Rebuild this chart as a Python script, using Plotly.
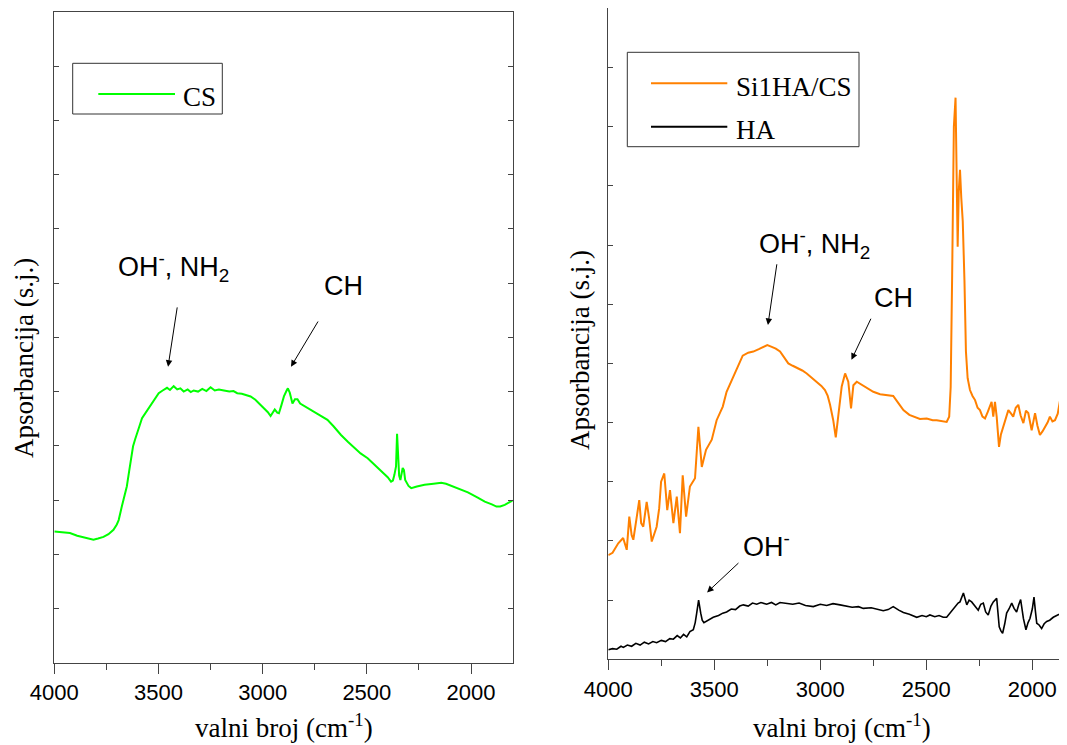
import plotly.graph_objects as go

# ---------------- data ----------------
cs_wn = [4000, 3960, 3925, 3890, 3850, 3812, 3790, 3764, 3740, 3716, 3700, 3691, 3676, 3665, 3652,
         3640, 3635, 3628, 3622, 3612, 3603, 3590, 3579, 3560, 3539, 3520, 3499, 3480, 3459, 3445,
         3427, 3410, 3395, 3379, 3360, 3345, 3331, 3310, 3290, 3270, 3250, 3230, 3210, 3186, 3160,
         3140, 3122, 3100, 3080, 3058, 3035, 3010, 2990, 2975, 2962, 2950, 2942, 2930, 2922, 2910,
         2898, 2885, 2879, 2870, 2862, 2857, 2845, 2833, 2820, 2802, 2770, 2737, 2710, 2689, 2660,
         2624, 2590, 2560, 2530, 2496, 2460, 2430, 2400, 2384, 2375, 2368, 2360, 2355, 2350, 2345,
         2339, 2333, 2328, 2322, 2316, 2300, 2287, 2260, 2223, 2180, 2143, 2120, 2095, 2060, 2015,
         1970, 1934, 1900, 1878, 1860, 1838, 1815, 1800]
cs_abs = [2.42, 2.41, 2.39, 2.34, 2.31, 2.27, 2.29, 2.32, 2.37, 2.45, 2.55, 2.63, 2.88, 3.05, 3.25,
          3.55, 3.68, 3.90, 3.99, 4.12, 4.24, 4.38, 4.51, 4.62, 4.75, 4.86, 4.97, 5.02, 5.07, 5.03,
          5.10, 5.04, 5.06, 5.00, 5.04, 4.99, 5.02, 5.00, 5.05, 5.01, 5.08, 5.02, 5.04, 5.02, 5.00,
          5.01, 4.97, 4.96, 4.94, 4.91, 4.85, 4.76, 4.68, 4.62, 4.55, 4.64, 4.67, 4.61, 4.60, 4.75,
          4.91, 5.02, 5.06, 4.98, 4.82, 4.78, 4.86, 4.86, 4.78, 4.74, 4.67, 4.60, 4.53, 4.48, 4.36,
          4.20, 4.07, 3.96, 3.86, 3.77, 3.64, 3.54, 3.42, 3.34, 3.36, 3.46, 3.62, 4.22, 3.70, 3.45,
          3.37, 3.50, 3.59, 3.55, 3.37, 3.26, 3.22, 3.25, 3.28, 3.30, 3.32, 3.30, 3.26, 3.21, 3.14,
          3.05, 2.97, 2.92, 2.88, 2.88, 2.91, 2.96, 2.99]

si_wn = [4000, 3980, 3953, 3930, 3913, 3901, 3890, 3882, 3868, 3854, 3845, 3835, 3819, 3808, 3795,
         3772, 3760, 3751, 3736, 3722, 3709, 3693, 3677, 3662, 3649, 3633, 3615, 3591, 3575, 3559,
         3539, 3512, 3489, 3460, 3442, 3410, 3385, 3366, 3340, 3316, 3290, 3269, 3250, 3229, 3210,
         3190, 3170, 3151, 3130, 3111, 3085, 3064, 3040, 3017, 2995, 2978, 2965, 2954, 2939, 2927,
         2915, 2899, 2883, 2868, 2855, 2844, 2828, 2800, 2781, 2750, 2718, 2685, 2656, 2630, 2608,
         2580, 2561, 2530, 2498, 2470, 2451, 2425, 2404, 2392, 2385, 2378, 2370, 2362, 2357, 2352,
         2347, 2341, 2335, 2328, 2320, 2313, 2305, 2294, 2282, 2270, 2258, 2247, 2235, 2223, 2210,
         2192, 2184, 2176, 2168, 2157, 2148, 2137, 2125, 2113, 2100, 2090, 2078, 2066, 2055, 2042,
         2030, 2019, 2003, 1995, 1987, 1976, 1964, 1952, 1940, 1928, 1917, 1905, 1893, 1880, 1869,
         1862, 1854, 1846, 1836]
si_abs = [1.76, 1.80, 1.96, 2.05, 1.85, 2.41, 2.10, 2.02, 2.35, 2.69, 2.30, 2.24, 2.66, 2.40, 1.99,
          2.24, 2.55, 3.00, 3.14, 2.52, 2.86, 2.30, 2.75, 2.13, 3.11, 2.41, 2.92, 3.06, 3.93, 3.25,
          3.54, 3.71, 4.04, 4.27, 4.52, 4.78, 5.00, 5.13, 5.18, 5.20, 5.24, 5.28, 5.31, 5.28, 5.25,
          5.20, 5.10, 5.00, 4.96, 4.93, 4.88, 4.83, 4.76, 4.69, 4.62, 4.55, 4.45, 4.30, 4.04, 3.75,
          4.16, 4.61, 4.83, 4.69, 4.24, 4.63, 4.69, 4.63, 4.58, 4.52, 4.48, 4.46, 4.45, 4.32, 4.21,
          4.13, 4.10, 4.06, 4.07, 4.04, 4.04, 4.03, 4.01, 4.10, 4.60, 6.50, 9.00, 9.49, 8.50, 6.97,
          7.90, 8.27, 7.80, 7.40, 6.40, 5.20, 4.75, 4.55, 4.45, 4.38, 4.25, 4.21, 4.10, 4.07, 4.18,
          4.35, 4.10, 4.35, 4.10, 3.59, 3.80, 3.93, 4.10, 4.21, 4.15, 4.10, 4.25, 4.30, 4.12, 3.99,
          4.20, 4.16, 3.87, 4.05, 4.16, 3.95, 3.79, 3.85, 3.93, 4.00, 4.10, 4.02, 4.04, 4.15, 4.38,
          4.15, 4.21, 4.30, 4.35]

ha_wn = [4000, 3980, 3960, 3940, 3929, 3910, 3890, 3870, 3850, 3830, 3810, 3790, 3772, 3750, 3730,
         3710, 3693, 3675, 3660, 3645, 3630, 3615, 3599, 3590, 3583, 3574, 3564, 3557, 3549, 3530,
         3505, 3480, 3460, 3442, 3420, 3400, 3380, 3363, 3340, 3320, 3300, 3280, 3253, 3230, 3210,
         3190, 3158, 3130, 3100, 3070, 3033, 3000, 2970, 2940, 2907, 2880, 2850, 2820, 2797, 2760,
         2730, 2703, 2680, 2656, 2630, 2608, 2580, 2545, 2520, 2500, 2483, 2460, 2440, 2420, 2404,
         2385, 2365, 2350, 2341, 2325, 2309, 2298, 2286, 2270, 2255, 2243, 2231, 2220, 2208, 2195,
         2184, 2168, 2162, 2156, 2148, 2140, 2130, 2121, 2110, 2097, 2086, 2074, 2064, 2055, 2042,
         2030, 2020, 2011, 2000, 1992, 1985, 1979, 1968, 1956, 1944, 1932, 1918, 1901, 1885, 1870,
         1854, 1846, 1836]
ha_abs = [0.16, 0.18, 0.17, 0.22, 0.20, 0.24, 0.22, 0.27, 0.24, 0.29, 0.26, 0.30, 0.28, 0.32, 0.30,
          0.35, 0.34, 0.40, 0.36, 0.42, 0.38, 0.47, 0.50, 0.62, 0.78, 1.00, 0.78, 0.66, 0.62, 0.66,
          0.71, 0.74, 0.78, 0.80, 0.85, 0.84, 0.90, 0.92, 0.90, 0.95, 0.93, 0.96, 0.93, 0.96, 0.92,
          0.96, 0.95, 0.93, 0.95, 0.91, 0.89, 0.93, 0.91, 0.94, 0.92, 0.90, 0.88, 0.89, 0.86, 0.87,
          0.84, 0.82, 0.84, 0.89, 0.83, 0.79, 0.76, 0.71, 0.74, 0.72, 0.75, 0.72, 0.74, 0.71, 0.71,
          0.80, 0.89, 0.95, 0.97, 1.12, 0.92, 1.00, 0.97, 0.90, 0.83, 0.93, 0.95, 0.80, 0.75, 0.90,
          0.97, 1.03, 0.80, 0.55, 0.48, 0.44, 0.60, 0.78, 0.85, 0.95, 0.86, 0.80, 0.92, 1.01, 0.69,
          0.50, 0.62, 0.69, 0.85, 1.05, 0.80, 0.61, 0.58, 0.52, 0.60, 0.64, 0.66, 0.71, 0.74, 0.76,
          0.79, 0.84, 0.75]

# ---------------- geometry helpers ----------------
# the page body has an 8px margin, so the figure starts at (8, 8) in the window
OFF = 8
W, H = 1067 - OFF, 745 - OFF


def px(x):
    return (x - OFF) / W


def py(y):
    return 1 - (y - OFF) / H


fig = go.Figure()

fig.add_trace(go.Scatter(x=cs_wn, y=cs_abs, mode="lines", line=dict(color="#00ff00", width=2),
                         xaxis="x", yaxis="y", showlegend=False, name="CS"))
fig.add_trace(go.Scatter(x=si_wn, y=si_abs, mode="lines", line=dict(color="#ff8000", width=2),
                         xaxis="x2", yaxis="y2", showlegend=False, name="Si1HA/CS"))
fig.add_trace(go.Scatter(x=ha_wn, y=ha_abs, mode="lines", line=dict(color="#000000", width=1.6),
                         xaxis="x2", yaxis="y2", showlegend=False, name="HA"))

tickfont = dict(family="Liberation Sans, Arial", size=22, color="black")
axcol = "#444444"

L_RANGE = [4000, 1800]
R_RANGE = [4000, 1836.3]

common_x = dict(showgrid=False, zeroline=False, showline=True, linecolor=axcol, linewidth=1,
                ticks="outside", ticklen=10, tickwidth=1, tickcolor=axcol, dtick=500, tick0=0,
                tickfont=tickfont, mirror=True, automargin=False,
                minor=dict(dtick=250, tick0=0, ticks="outside", ticklen=6, tickcolor=axcol, showgrid=False))

fig.update_layout(
    template="none",
    width=W, height=H, margin=dict(l=0, r=0, t=0, b=0, pad=0, autoexpand=False),
    paper_bgcolor="white", plot_bgcolor="white", showlegend=False,
    xaxis=dict(domain=[px(54.3), px(512.7)], range=L_RANGE, autorange=False, anchor="y", **common_x),
    yaxis=dict(domain=[py(662.7), py(12)], range=[0, 12], autorange=False, anchor="x", automargin=False,
               showgrid=False, zeroline=False, showline=True, linecolor=axcol, linewidth=1,
               ticks="inside", ticklen=5, tickcolor=axcol, dtick=1, showticklabels=False, mirror="ticks"),
    xaxis3=dict(overlaying="x", anchor="y", side="top", range=L_RANGE, autorange=False, automargin=False,
                showgrid=False, zeroline=False, showline=False, ticks="inside", ticklen=3,
                tickcolor=axcol, dtick=250, tick0=0, showticklabels=False),
    xaxis2=dict(domain=[px(608.3), 1.0], range=R_RANGE, autorange=False, anchor="y2", **common_x),
    yaxis2=dict(domain=[py(659.3), min(1.0, py(8.3))], range=[0, 11], autorange=False, anchor="x2",
                automargin=False, showgrid=False, zeroline=False, showline=True, linecolor=axcol, linewidth=1,
                ticks="inside", ticklen=5, tickcolor=axcol, dtick=1, showticklabels=False, mirror=False),
    xaxis4=dict(overlaying="x2", anchor="y2", side="top", range=R_RANGE, autorange=False, automargin=False,
                showgrid=False, zeroline=False, showline=False, ticks="inside", ticklen=3,
                tickcolor=axcol, dtick=250, tick0=0, showticklabels=False),
)

serif = "Liberation Serif, Times New Roman, serif"
sans = "Liberation Sans, Arial, sans-serif"

annotations = []
# axis titles
for cx in (283.5, 841.5):
    annotations.append(dict(xref="paper", yref="paper", x=px(cx), y=0, showarrow=False,
                            text="valni broj (cm<sup>-1</sup>)", font=dict(family=serif, size=27, color="black"),
                            xanchor="center", yanchor="bottom"))
for cx, cy in ((24, 358), (579.5, 350.6)):
    annotations.append(dict(xref="paper", yref="paper", x=px(cx), y=py(cy), showarrow=False,
                            text="Apsorbancija (s.j.)", textangle=-90,
                            font=dict(family=serif, size=27, color="black"),
                            xanchor="center", yanchor="middle"))

# peak labels
lab_font = dict(family=sans, size=27, color="black")
annotations += [
    dict(xref="x", yref="y", x=3703, y=7.30, text="OH<sup>-</sup>, NH<sub>2</sub>", showarrow=False,
         xanchor="left", yanchor="middle", font=lab_font),
    dict(xref="x", yref="y", x=2713, y=6.95, text="CH", showarrow=False,
         xanchor="left", yanchor="middle", font=lab_font),
    dict(xref="x2", yref="y2", x=3299, y=7.02, text="OH<sup>-</sup>, NH<sub>2</sub>", showarrow=False,
         xanchor="left", yanchor="middle", font=lab_font),
    dict(xref="x2", yref="y2", x=2758, y=6.10, text="CH", showarrow=False,
         xanchor="left", yanchor="middle", font=lab_font),
    dict(xref="x2", yref="y2", x=3374, y=1.93, text="OH<sup>-</sup>", showarrow=False,
         xanchor="left", yanchor="middle", font=lab_font),
]
# arrows (head -> tail in data coordinates)
arrows = [
    ("x", "y", 3454, 5.46, 3409, 6.58),
    ("x", "y", 2864, 5.46, 2730, 6.32),
    ("x2", "y2", 3247, 5.65, 3204, 6.70),
    ("x2", "y2", 2853, 5.06, 2758, 5.78),
    ("x2", "y2", 3534, 1.13, 3379, 1.65),
]
for xr, yr, hx, hy, tx, ty in arrows:
    annotations.append(dict(xref=xr, yref=yr, axref=xr, ayref=yr, x=hx, y=hy, ax=tx, ay=ty,
                            text="", showarrow=True, arrowhead=2, arrowsize=1.3, arrowwidth=1,
                            arrowcolor="black", standoff=0, startstandoff=0))

# custom legends
leg_font = dict(family=serif, size=27, color="black")
annotations += [
    dict(xref="paper", yref="paper", x=px(181), y=py(97), text="CS", showarrow=False,
         xanchor="left", yanchor="middle", font=leg_font),
    dict(xref="paper", yref="paper", x=px(734), y=py(87), text="Si1HA/CS", showarrow=False,
         xanchor="left", yanchor="middle", font=leg_font),
    dict(xref="paper", yref="paper", x=px(734), y=py(130), text="HA", showarrow=False,
         xanchor="left", yanchor="middle", font=leg_font),
]
fig.update_layout(annotations=annotations)

shapes = [
    dict(type="rect", xref="paper", yref="paper", x0=px(72.7), x1=px(222.3), y0=py(114), y1=py(63.3),
         line=dict(color="#333333", width=1), fillcolor="white", layer="above"),
    dict(type="line", xref="paper", yref="paper", x0=px(98.3), x1=px(175), y0=py(94), y1=py(94),
         line=dict(color="#00ff00", width=2)),
    dict(type="rect", xref="paper", yref="paper", x0=px(627.3), x1=px(859), y0=py(146.7), y1=py(52.3),
         line=dict(color="#333333", width=1), fillcolor="white", layer="above"),
    dict(type="line", xref="paper", yref="paper", x0=px(651), x1=px(727.3), y0=py(83.3), y1=py(83.3),
         line=dict(color="#ff8000", width=2)),
    dict(type="line", xref="paper", yref="paper", x0=px(651), x1=px(727.3), y0=py(126.7), y1=py(126.7),
         line=dict(color="#000000", width=2)),
]
fig.update_layout(shapes=shapes)

fig.write_html("out.html")
